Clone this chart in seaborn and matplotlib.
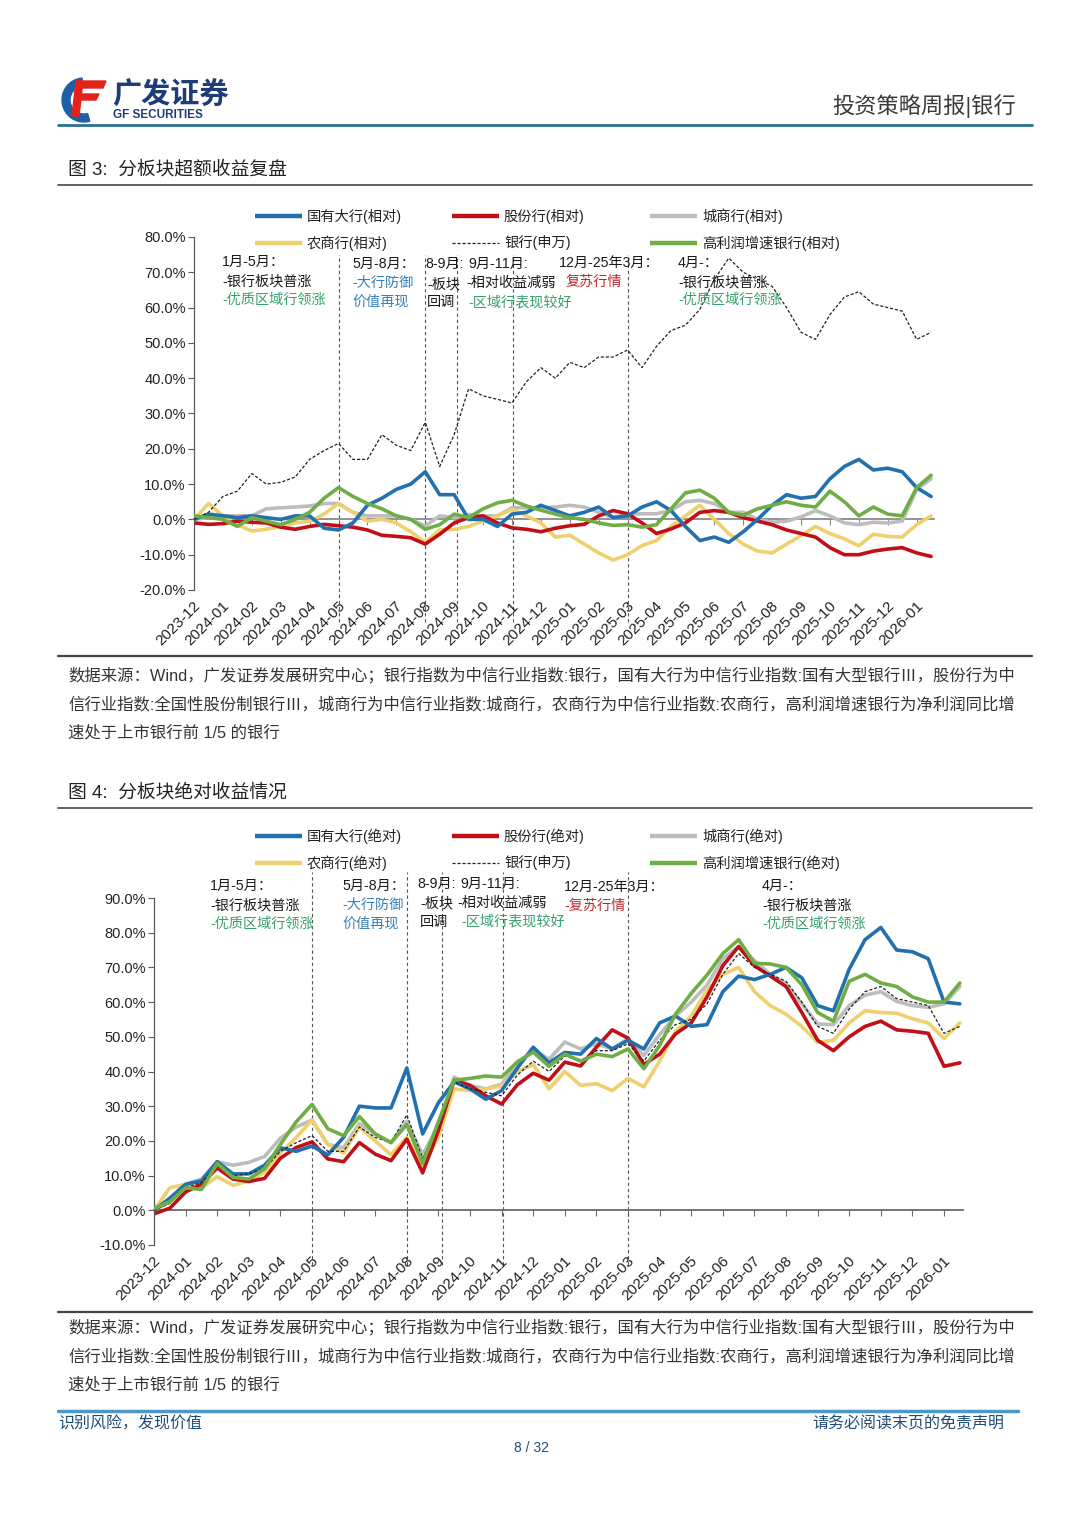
import numpy as np
import matplotlib
matplotlib.use("Agg")
import matplotlib.pyplot as plt
import seaborn as sns
from matplotlib.lines import Line2D
from matplotlib.patches import Wedge, Polygon
from matplotlib.ticker import PercentFormatter, MultipleLocator

# ---- data (values in %, one point every half month from 2023-12 end) ----
month_labels = ["2023-12", "2024-01", "2024-02", "2024-03", "2024-04", "2024-05",
                "2024-06", "2024-07", "2024-08", "2024-09", "2024-10", "2024-11",
                "2024-12", "2025-01", "2025-02", "2025-03", "2025-04", "2025-05",
                "2025-06", "2025-07", "2025-08", "2025-09", "2025-10", "2025-11",
                "2025-12", "2026-01"]
months = np.arange(52) * 0.5

bank_sw = [0, 2, 6.5, 8, 13, 10, 10.5, 12, 17, 19.5,
           21.5, 17, 17, 24, 21, 19.5, 27.5, 15, 24, 37,
           35, 34, 33, 39, 43, 40, 44.5, 43, 46, 46,
           48, 43, 49, 53.5, 55, 59.5, 68, 74, 70, 68,
           66, 60, 53, 51, 58, 63, 64.5, 61, 60, 59,
           51, 53]

# chart 3: relative
big_rel = [0, 1.5, 1, 0.5, 1, 0.5, 0, 1, 1, -2.5,
           -3, -1, 4, 6, 8.5, 10, 13.5, 7, 7, 0,
           0, -2, 1.5, 2, 4, 2.5, 1, 2, 3.5, 0.5,
           1, 3.5, 5, 2.5, -2, -6, -5, -6.5, -3.5, 0,
           4, 7, 6, 6.5, 11.5, 15, 17, 14, 14.5, 13.5,
           9, 6.5]
joint_rel = [-1, -1.4, -1.2, -0.5, -0.8, -1, -2.2, -2.8, -2, -1.4,
             -1.8, -2.2, -3, -4.5, -4.8, -5.2, -7, -4.2, -1, 0.5,
             1, -1, -2.4, -2.8, -3.5, -2.5, -1.8, -1.4, 1, 2.5,
             1.6, -1, -4, -2.7, -1, 2, 2.5, 2, 0.5, -0.5,
             -1.5, -3, -4, -5, -8, -10, -10, -9, -8.4, -8,
             -9.5, -10.5]
city_rel = [0, 0.5, 1, 1, 1, 3, 3.3, 3.5, 3.8, 4.5,
            4.5, 2, 1, 1, 1, 0, -1.9, 1, 0.5, 1.4,
            1, 1, 3.3, 3.3, 3.3, 3.5, 4, 3.5, 2, 0.5,
            1.5, 1.6, 1.6, 2.5, 5, 5.4, 4.5, 2, 2, 0,
            -0.8, -0.5, 0.7, 2.5, 1, -1, -1.5, -0.8, -1, -0.5,
            8.5, 11.5]
rural_rel = [0, 4.5, 1, -1.5, -3.3, -2.8, -2, -1, -0.5, 1.5,
             4.5, 2, -0.5, 0, -1, -3.5, -6.5, -3, -2.8, -2,
             -0.5, 1, 2.8, 1, -1, -5, -4.5, -7, -9.5, -11.5,
             -10, -7.4, -6, -2, 1, 4, 0, -4, -7, -9,
             -9.5, -7, -4.6, -2, -4, -5.5, -7.5, -4.2, -4.8, -5,
             -1.5, 1]
growth_rel = [1, 0.5, 0, -2, 0.5, -0.5, -1.5, 0, 2, 6,
              9, 6.5, 4.5, 3, 1, 0, -2.8, -1.5, 1.5, 0.5,
              3, 4.7, 5.4, 3.8, 2.6, 1.5, 0.5, 0, -1, -1.7,
              -1.5, -2.2, -1.5, 3, 7.5, 8.3, 6, 2, 1.2, 3,
              4, 5, 4, 3.5, 8, 5, 1, 3.5, 1.5, 1,
              9, 12.5]

# chart 4: absolute
big_abs = [0, 3.5, 7.5, 8.5, 14, 10.5, 10.5, 13, 18, 17,
           18.5, 16, 21, 30, 29.5, 29.5, 41, 22, 31, 37,
           35, 32, 34.5, 41, 47, 42.5, 45.5, 45, 49.5, 46.5,
           49, 46.5, 54, 56, 53, 53.5, 63, 67.5, 66.5, 68,
           70, 67, 59, 57.5, 69.5, 78, 81.5, 75, 74.5, 72.5,
           60, 59.5]
joint_abs = [-1, 0.6, 5.3, 7.5, 12.2, 9, 8.3, 9.2, 15, 18.1,
             19.7, 14.8, 14, 19.5, 16.2, 14.3, 20.5, 10.8, 23, 37.5,
             36, 33, 30.6, 36.2, 39.5, 37.5, 42.7, 41.6, 47, 52,
             49.6, 42, 45, 50.8, 54, 61.5, 70.5, 76, 70.5, 67.5,
             64.5, 57, 49, 46, 50, 53, 54.5, 52, 51.6, 51,
             41.5, 42.5]
city_abs = [0, 2.5, 7.5, 9, 14, 13, 13.8, 15.5, 20.8, 24,
            26, 19, 18, 25, 22, 19.5, 25.6, 16, 24.5, 38.4,
            36, 35, 36.3, 42.3, 46.3, 43.5, 48.5, 46.5, 48, 46.5,
            49.5, 44.6, 50.6, 56, 60, 64.9, 72.5, 76, 72, 68,
            65.2, 59.5, 53.7, 53.5, 59, 62, 63, 60.2, 59, 58.5,
            59.5, 64.5]
rural_abs = [0, 6.5, 7.5, 6.5, 9.7, 7.2, 8.5, 11, 16.5, 21,
             26, 19, 16.5, 24, 20, 16, 21, 12, 21.2, 35,
             34.5, 35, 35.8, 40, 42, 35, 40, 36, 36.5, 34.5,
             38, 35.6, 43, 51.5, 56, 63.5, 68, 70, 63, 59,
             56.5, 53, 48.4, 49, 54, 57.5, 57, 56.8, 55.2, 54,
             49.5, 54]
growth_abs = [0.5, 2.5, 6.5, 6, 13.5, 9.5, 9, 12, 19, 25.5,
              30.5, 23.5, 21.5, 27, 22, 19.5, 24.7, 13.5, 25.5, 37.5,
              38, 38.7, 38.4, 42.8, 45.6, 41.5, 45, 43, 45, 44.3,
              46.5, 40.8, 47.5, 56.5, 62.5, 67.8, 74, 78, 71.2, 71,
              70, 65, 57, 54.5, 66, 68, 65.5, 64.5, 61.5, 60,
              60, 65.5]

phase_marks = [5, 8, 9.1, 11.05, 15]

labels_rel = ["国有大行(相对)", "股份行(相对)", "城商行(相对)",
              "农商行(相对)", "银行(申万)", "高利润增速银行(相对)"]
labels_abs = ["国有大行(绝对)", "股份行(绝对)", "城商行(绝对)",
              "农商行(绝对)", "银行(申万)", "高利润增速银行(绝对)"]

source_lines = [
    "数据来源：Wind，广发证券发展研究中心；银行指数为中信行业指数:银行，国有大行为中信行业指数:国有大型银行Ⅲ，股份行为中",
    "信行业指数:全国性股份制银行Ⅲ，城商行为中信行业指数:城商行，农商行为中信行业指数:农商行，高利润增速银行为净利润同比增",
    "速处于上市银行前 1/5 的银行",
]

# ---- style ----
BLUE, RED, GRAY, GOLD, GREEN = "#2271ae", "#c00f17", "#bdbdbd", "#efd06e", "#6fae45"
BLK, TGRN, TBLU, TRED = "#1a1a1a", "#35a06a", "#3a80b8", "#c0282e"

sns.set_theme(style="white")
plt.rcParams["font.family"] = ["Liberation Sans", "Noto Sans CJK SC", "DejaVu Sans"]
plt.rcParams["axes.unicode_minus"] = False

W, H = 1080, 1527
fig = plt.figure(figsize=(W / 100, H / 100), dpi=100)
fig.patch.set_facecolor("white")


def fx(x):
    return x / W


def fy(y):
    return 1 - y / H


def put(x, y, s, size=9.5, color=BLK, ha="left", va="center", **kw):
    return fig.text(fx(x), fy(y), s, fontsize=size, color=color, ha=ha, va=va, **kw)


def hline(y, x0, x1, color, lw):
    fig.add_artist(Line2D([fx(x0), fx(x1)], [fy(y), fy(y)], color=color, lw=lw,
                          transform=fig.transFigure))


# ---- header ----
ax_logo = fig.add_axes([fx(58), fy(124), 50 / W, 48 / H])
ax_logo.set_xlim(0, 50)
ax_logo.set_ylim(0, 48)
ax_logo.axis("off")
ax_logo.add_patch(Wedge((26, 24), 22, 95, 285, width=8, color="#1f5fa8"))
ax_logo.add_patch(Polygon([(20, 43), (48, 43), (45, 36), (18, 36)], color="#e2231a"))
ax_logo.add_patch(Polygon([(20, 30), (41, 30), (38, 24), (18, 24)], color="#e2231a"))
ax_logo.add_patch(Polygon([(18, 43), (25, 43), (21, 8), (14, 8)], color="#e2231a"))

put(112, 96, "广发证券", size=21, color="#1d3c78", weight="bold")
put(113, 115, "GF SECURITIES", size=8.5, color="#1d3c78", weight="bold")
put(1016, 106, "投资策略周报|银行", size=16, color="#3c3c3c", ha="right")
hline(125, 58, 1032, "#2b6f92", 2.0)

# ---- titles & separators ----
put(68, 170, "图 3:  分板块超额收益复盘", size=13.5, color="#222222")
hline(185, 58, 1032, "#555555", 1.3)
hline(656, 58, 1032, "#444444", 1.6)
put(68, 793, "图 4:  分板块绝对收益情况", size=13.5, color="#222222")
hline(808, 58, 1032, "#555555", 1.3)
hline(1312, 58, 1032, "#444444", 1.6)


def draw_chart(rect, ylim, series, zero_color, vspan):
    ax = fig.add_axes(rect)
    for vals, color, lw, ls, z in series:
        sns.lineplot(x=months, y=vals, ax=ax, color=color, linewidth=lw,
                     linestyle=ls, legend=False, zorder=z)
    ax.set_xlim(0, 25.6)
    ax.set_ylim(*ylim)
    ax.set_xlabel("")
    ax.set_ylabel("")
    ax.yaxis.set_major_locator(MultipleLocator(10))
    ax.yaxis.set_major_formatter(PercentFormatter(decimals=1))
    ax.set_xticks(range(len(month_labels)))
    ax.set_axisbelow(True)
    for s in ["top", "right"]:
        ax.spines[s].set_visible(False)
    ax.spines["left"].set_color("#595959")
    ax.spines["left"].set_linewidth(0.9)
    ax.spines["bottom"].set_position(("data", 0))
    ax.spines["bottom"].set_color(zero_color)
    ax.spines["bottom"].set_linewidth(1.3)
    ax.spines["bottom"].set_zorder(1)
    ax.tick_params(axis="y", direction="out", length=4, width=0.8, color="#595959",
                   labelsize=10.5, labelcolor="#222222", pad=2, left=True)
    ax.tick_params(axis="x", direction="out", length=4, width=0.8, color=zero_color,
                   labelbottom=False, bottom=True)
    for m in phase_marks:
        ax.axvline(m, ymin=vspan[0], ymax=vspan[1], color="#555555", lw=0.8,
                   ls=(0, (3, 2.5)), clip_on=False, zorder=1)
    for i, lab in enumerate(month_labels):
        ax.annotate(lab, xy=(i, 0), xycoords=("data", "axes fraction"),
                    xytext=(4, -14), textcoords="offset pixels", rotation=45,
                    ha="right", va="center", rotation_mode="anchor",
                    fontsize=11, color="#222222")
    return ax


def legend_rows(y1, y2, labels):
    items = [(255, y1, BLUE, 3.2, "-"), (452, y1, RED, 3.2, "-"), (650, y1, GRAY, 3.2, "-"),
             (255, y2, GOLD, 3.2, "-"), (452, y2, "#222222", 0.9, (0, (2.5, 1.5))),
             (650, y2, GREEN, 3.2, "-")]
    for (x, y, c, lw, ls), lab in zip(items, labels):
        fig.add_artist(Line2D([fx(x), fx(x + 47)], [fy(y), fy(y)], color=c, lw=lw, ls=ls,
                              transform=fig.transFigure, solid_capstyle="butt"))
        put(x + 52, y, lab, size=10.3, color="#222222")


def notes(items):
    for x, y, s, c in items:
        put(x, y, s, size=10.2, color=c)


def source(y0):
    texts = [put(68, y0 + 29 * i, s, size=11, color="#333333") for i, s in enumerate(source_lines)]
    r = fig.canvas.get_renderer()
    sizes = []
    for t in texts[:2]:
        w = t.get_window_extent(renderer=r).width
        sizes.append(11 * 942 / w)
    for t, sz in zip(texts, sizes + [sum(sizes) / 2]):
        t.set_fontsize(sz)


# ---- chart 3: relative ----
ax1 = draw_chart([fx(194), fy(590), 740 / W, 353 / H], (-20, 80), [
    (city_rel, GRAY, 2.6, "-", 2.2),
    (rural_rel, GOLD, 2.6, "-", 2.3),
    (joint_rel, RED, 2.6, "-", 2.4),
    (big_rel, BLUE, 2.6, "-", 2.5),
    (bank_sw, "#222222", 0.9, (0, (2.5, 1.5)), 2.6),
    (growth_rel, GREEN, 2.6, "-", 2.7),
], "#8a8a8a", (-0.09, 0.949))
legend_rows(216, 243, labels_rel)
notes([
    (222, 262, "1月-5月：", BLK), (222, 281, "-银行板块普涨", BLK), (222, 300, "-优质区域行领涨", TGRN),
    (352, 264, "5月-8月：", BLK), (352, 283, "-大行防御", TBLU), (352, 302, "价值再现", TBLU),
    (425, 264, "8-9月:", BLK), (427, 284, "-板块", BLK), (427, 302, "回调", BLK),
    (468, 264, "9月-11月:", BLK), (466, 283, "-相对收益减弱", BLK), (468, 302, "-区域行表现较好", TGRN),
    (559, 263, "12月-25年3月：", BLK), (566, 282, "复苏行情", TRED),
    (678, 263, "4月-：", BLK), (678, 282, "-银行板块普涨", BLK), (678, 300, "-优质区域行领涨", TGRN),
])
source(675)

# ---- chart 4: absolute ----
ax2 = draw_chart([fx(154), fy(1245), 809 / W, 347 / H], (-10, 90), [
    (city_abs, GRAY, 2.6, "-", 2.2),
    (rural_abs, GOLD, 2.6, "-", 2.3),
    (joint_abs, RED, 2.6, "-", 2.4),
    (big_abs, BLUE, 2.6, "-", 2.5),
    (bank_sw, "#222222", 0.9, (0, (2.5, 1.5)), 2.6),
    (growth_abs, GREEN, 2.6, "-", 2.7),
], "#6a6a6a", (-0.058, 1.075))
legend_rows(836, 863, labels_abs)
notes([
    (210, 886, "1月-5月：", BLK), (210, 905, "-银行板块普涨", BLK), (210, 924, "-优质区域行领涨", TGRN),
    (342, 886, "5月-8月：", BLK), (342, 905, "-大行防御", TBLU), (342, 924, "价值再现", TBLU),
    (417, 884, "8-9月:", BLK), (420, 903, "-板块", BLK), (420, 922, "回调", BLK),
    (460, 884, "9月-11月:", BLK), (457, 903, "-相对收益减弱", BLK), (461, 922, "-区域行表现较好", TGRN),
    (564, 887, "12月-25年3月：", BLK), (564, 906, "-复苏行情", TRED),
    (762, 886, "4月-：", BLK), (762, 905, "-银行板块普涨", BLK), (762, 924, "-优质区域行领涨", TGRN),
])
source(1327)

# ---- footer ----
hline(1411, 58, 1018, "#4a97c8", 2.5)
put(58, 1424, "识别风险，发现价值", size=11.5, color="#1f4e79")
put(1004, 1424, "请务必阅读末页的免责声明", size=11.5, color="#1f4e79", ha="right")
put(532, 1448, "8 / 32", size=10, color="#1f4e79", ha="center")

fig.savefig("out.png", dpi=100, facecolor="white")
